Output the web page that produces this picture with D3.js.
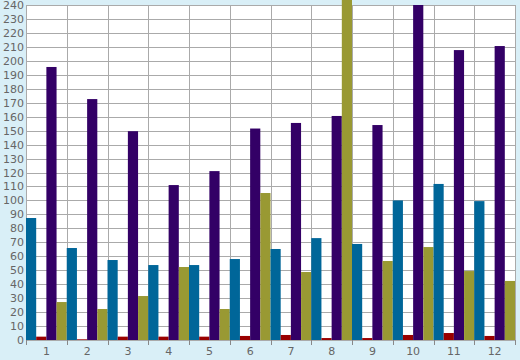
<!DOCTYPE html>
<html><head><meta charset="utf-8">
<script src="https://cdn.jsdelivr.net/npm/d3@7"></script>
<style>body{margin:0;background:#d9eff7;} svg{display:block;}</style>
</head><body>
<svg id="c" width="520" height="360"></svg>
<script>
const categories = ["1","2","3","4","5","6","7","8","9","10","11","12"];
const seriesNames = ["blue","red","purple","olive"];
const blueValues   = [87.4, 65.9, 57.3, 53.7, 53.7, 58, 65.2, 73, 68.8, 100, 111.8, 99.5];
const redValues    = [2.4, 0.5, 2.4, 2.4, 2.4, 2.9, 3.6, 1.4, 1.4, 3.6, 5, 2.9];
const purpleValues = [195.6, 172.6, 149.6, 111, 121, 151.5, 155.5, 160.5, 154, 240, 207.7, 210.6];
const oliveValues  = [27.2, 22.2, 31.5, 52.3, 22.2, 105.3, 48.7, 250, 56.6, 66.6, 49.4, 42.3];
const colors = {blue:"#006699", red:"#990000", purple:"#330066", olive:"#999933"};
const yTicks = d3.range(0, 241, 10);

const svg = d3.select("#c");
const pL = 26, pR = 515, pT = 5, pB = 340;
svg.append("rect").attr("width",520).attr("height",360).attr("fill","#d9eff7");
const x = d3.scaleBand().domain(categories).range([pL, pR]).padding(0);
const xi = d3.scaleBand().domain(seriesNames).range([0, x.bandwidth()]).padding(0);
const y = d3.scaleLinear().domain([0, 240]).range([pB, pT]);

svg.append("rect").attr("x",pL).attr("y",pT).attr("width",pR-pL).attr("height",pB-pT).attr("fill","#fff");

const g = svg.append("g");
g.selectAll("line.h").data(yTicks).join("line")
  .attr("x1",pL).attr("x2",pR).attr("y1",d=>Math.round(y(d))+0.5).attr("y2",d=>Math.round(y(d))+0.5)
  .attr("stroke","#aaaaaa").attr("stroke-width",1);
const bounds = categories.map(c=>x(c)+x.bandwidth()).concat([pL]);
g.selectAll("line.v").data(bounds).join("line")
  .attr("x1",d=>Math.round(d)+0.5).attr("x2",d=>Math.round(d)+0.5).attr("y1",pT).attr("y2",pB)
  .attr("stroke","#aaaaaa").attr("stroke-width",1);

const data = {blue:blueValues, red:redValues, purple:purpleValues, olive:oliveValues};
const groups = svg.append("g").selectAll("g").data(categories).join("g")
  .attr("transform", c => `translate(${x(c)},0)`);
groups.selectAll("rect").data((c,i)=>seriesNames.map(s=>({s, v:data[s][i]}))).join("rect")
  .attr("x", d=>xi(d.s)).attr("width", xi.bandwidth())
  .attr("y", d=>y(d.v)).attr("height", d=>pB - y(d.v))
  .attr("fill", d=>colors[d.s]);

const ya = d3.axisLeft(y).tickValues(yTicks).tickSize(0).tickPadding(2);
const yg = svg.append("g").attr("transform",`translate(${pL},0)`).call(ya);
yg.select(".domain").remove();
yg.selectAll("text").attr("fill","#666").style("font-family","DejaVu Sans, sans-serif").style("font-size","11px");

const xa = d3.axisBottom(x).tickSize(0).tickPadding(7);
const xg = svg.append("g").attr("transform",`translate(0,${pB})`).call(xa);
xg.select(".domain").attr("stroke","#aaaaaa");
xg.selectAll("text").attr("fill","#666").style("font-family","DejaVu Sans, sans-serif").style("font-size","11px");
svg.append("g").selectAll("line").data(bounds).join("line")
  .attr("x1",d=>Math.round(d)+0.5).attr("x2",d=>Math.round(d)+0.5).attr("y1",pB).attr("y2",pB+5)
  .attr("stroke","#888");
</script>
</body></html>
